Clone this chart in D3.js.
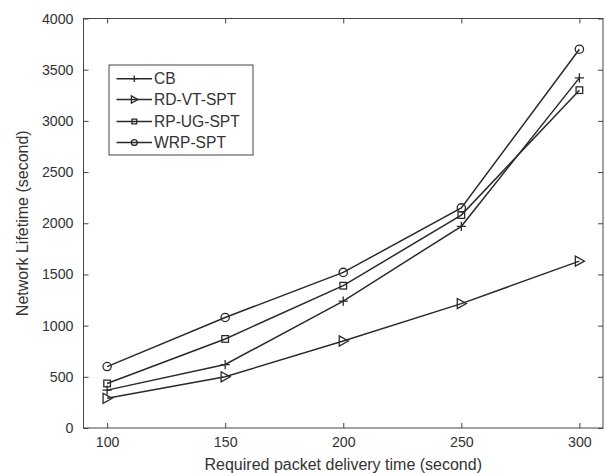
<!DOCTYPE html>
<html><head><meta charset="utf-8">
<script src="https://cdn.jsdelivr.net/npm/d3@7"></script>
<style>body{margin:0;background:#fff;} text{font-family:"Liberation Sans",Arial,sans-serif;}</style>
</head><body>
<svg id="chart" width="606" height="473"></svg>
<script>
const xValues = [100, 150, 200, 250, 300];
const seriesNames = ["CB", "RD-VT-SPT", "RP-UG-SPT", "WRP-SPT"];
const cbValues = [370, 620, 1240, 1970, 3420];
const rdvtValues = [290, 500, 850, 1215, 1630];
const rpugValues = [435, 870, 1390, 2080, 3300];
const wrpValues = [600, 1080, 1520, 2150, 3700];
const xTicks = [100, 150, 200, 250, 300];
const yTicks = [0, 500, 1000, 1500, 2000, 2500, 3000, 3500, 4000];
const xTitle = "Required packet delivery time (second)";
const yTitle = "Network Lifetime (second)";

const series = [
  {name: seriesNames[0], values: cbValues, marker: "plus"},
  {name: seriesNames[1], values: rdvtValues, marker: "tri"},
  {name: seriesNames[2], values: rpugValues, marker: "square"},
  {name: seriesNames[3], values: wrpValues, marker: "circle"}
];

const svg = d3.select("#chart");
const L = 83.5, R = 603, T = 18.5, B = 428;
const x = d3.scaleLinear().domain([90, 310]).range([L, R]);
const y = d3.scaleLinear().domain([0, 4000]).range([B, T]);
const axisColor = "#444", lineColor = "#2a2a2a", textColor = "#333";
const tickFs = "14.2px", titleFs = "16px", legFs = "15.6px";

// frame
svg.append("rect").attr("x", L).attr("y", T).attr("width", R - L).attr("height", B - T)
  .attr("fill", "none").attr("stroke", axisColor).attr("stroke-width", 1);

// axes
const fmt = d3.format("d");
const xAxis = svg.append("g").attr("transform", `translate(0,${B})`)
  .call(d3.axisBottom(x).tickValues(xTicks).tickFormat(fmt).tickSize(-5).tickPadding(9));
const xAxisTop = svg.append("g").attr("transform", `translate(0,${T})`)
  .call(d3.axisTop(x).tickValues(xTicks).tickSize(-5).tickFormat(""));
const yAxis = svg.append("g").attr("transform", `translate(${L},0)`)
  .call(d3.axisLeft(y).tickValues(yTicks).tickFormat(fmt).tickSize(-5).tickPadding(10));
const yAxisR = svg.append("g").attr("transform", `translate(${R},0)`)
  .call(d3.axisRight(y).tickValues(yTicks).tickSize(-5).tickFormat(""));
[xAxis, xAxisTop, yAxis, yAxisR].forEach(g => {
  g.select(".domain").remove();
  g.selectAll(".tick line").attr("stroke", axisColor);
  g.selectAll(".tick text").attr("fill", textColor).style("font-size", tickFs)
    .style("font-family", '"Liberation Sans",Arial,sans-serif');
});

// titles
svg.append("text").attr("x", (L + R) / 2).attr("y", 470).attr("text-anchor", "middle")
  .attr("fill", textColor).style("font-size", titleFs).text(xTitle);
svg.append("text").attr("transform", `translate(28,${(T + B) / 2}) rotate(-90)`)
  .attr("text-anchor", "middle").attr("fill", textColor).style("font-size", titleFs).text(yTitle);

function drawMarker(g, type, cx, cy, s) {
  let el;
  if (type === "plus") {
    el = g.append("path").attr("d", `M${cx - s},${cy}H${cx + s}M${cx},${cy - s}V${cy + s}`);
  } else if (type === "tri") {
    const t = s * 1.1;
    el = g.append("path").attr("d", `M${cx - t * 0.8},${cy - t}L${cx + t},${cy}L${cx - t * 0.8},${cy + t}Z`);
  } else if (type === "square") {
    const h = s * 0.72;
    el = g.append("rect").attr("x", cx - h).attr("y", cy - h).attr("width", 2 * h).attr("height", 2 * h);
  } else {
    el = g.append("circle").attr("cx", cx).attr("cy", cy).attr("r", s * 0.9);
  }
  el.attr("stroke", lineColor).attr("stroke-width", 1.3).attr("fill", "none");
}

const line = d3.line().x((d, i) => x(xValues[i])).y(d => y(d));
series.forEach(s => {
  const g = svg.append("g");
  g.append("path").datum(s.values).attr("d", line).attr("fill", "none")
    .attr("stroke", lineColor).attr("stroke-width", 1.5);
  s.values.forEach((v, i) => drawMarker(g, s.marker, x(xValues[i]), y(v), 4.6));
});

// legend
const lg = svg.append("g");
lg.append("rect").attr("x", 109).attr("y", 65).attr("width", 144).attr("height", 90)
  .attr("fill", "#fff").attr("stroke", axisColor).attr("stroke-width", 1);
const legY = [78.7, 99.5, 121.5, 142.5];
series.forEach((s, i) => {
  const yy = legY[i];
  lg.append("line").attr("x1", 116.5).attr("x2", 152).attr("y1", yy).attr("y2", yy)
    .attr("stroke", lineColor).attr("stroke-width", 1.5);
  drawMarker(lg, s.marker, 134.3, yy, 3.3);
  lg.append("text").attr("x", 154).attr("y", yy + 5.5).attr("fill", textColor)
    .style("font-size", legFs).text(s.name);
});
</script>
</body></html>
